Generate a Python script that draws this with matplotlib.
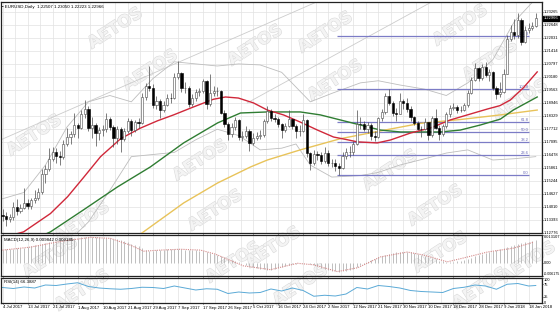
import numpy as np
import matplotlib
matplotlib.use("Agg")
import matplotlib.pyplot as plt
import matplotlib.patheffects as pe
from matplotlib.transforms import blended_transform_factory

plt.rcParams["font.family"] = ["Liberation Sans Narrow", "Liberation Sans", "DejaVu Sans"]

# daily EURUSD bars (open of each bar = previous close)
first_open = 1.1362
close = [
    1.1360, 1.1346, 1.1352, 1.1400, 1.1380, 1.1398, 1.1420, 1.1405,
    1.1432, 1.1445, 1.1470, 1.1556, 1.1580, 1.1630, 1.1660, 1.1645,
    1.1640, 1.1700, 1.1735, 1.1745, 1.1790, 1.1775, 1.1840, 1.1865,
    1.1775, 1.1790, 1.1750, 1.1765, 1.1770, 1.1820, 1.1780, 1.1730,
    1.1770, 1.1725, 1.1760, 1.1810, 1.1765, 1.1805, 1.1800, 1.1925,
    1.1975, 1.1965, 1.1885, 1.1905, 1.1860, 1.1885, 1.1920, 1.1918,
    1.2020, 1.2035, 1.1965, 1.1968, 1.1888, 1.1918, 1.1945, 1.1952,
    1.1998, 1.1892, 1.1942, 1.1950, 1.1950, 1.1848, 1.1795, 1.1748,
    1.1782, 1.1815, 1.1735, 1.1738, 1.1762, 1.1706, 1.1730, 1.1738,
    1.1742, 1.1808, 1.1856, 1.1823, 1.1820, 1.1793, 1.1764, 1.1786,
    1.1818, 1.1784, 1.1760, 1.1763, 1.1813, 1.1655, 1.1608, 1.1651,
    1.1646, 1.1619, 1.1655, 1.1608, 1.1610, 1.1596, 1.1588, 1.1644,
    1.1663, 1.1664, 1.1700, 1.1796, 1.1794, 1.1770, 1.1792, 1.1736,
    1.1735, 1.1822, 1.1851, 1.1930, 1.1895, 1.1846, 1.1844, 1.1905,
    1.1895, 1.1865, 1.1826, 1.1800, 1.1772, 1.1770, 1.1802, 1.1742,
    1.1825, 1.1777, 1.1748, 1.1783, 1.1840, 1.1873, 1.1876, 1.1861,
    1.1861, 1.1887, 1.1940, 1.2005, 1.2059, 1.2014, 1.2066, 1.2029,
    1.2040, 1.1967, 1.1937, 1.1946, 1.2034, 1.2198, 1.2230, 1.2215,
    1.2290, 1.2185, 1.2240, 1.2250, 1.2262, 1.2296]
high = [
    1.1390, 1.1375, 1.1368, 1.1425, 1.1440, 1.1415, 1.1490, 1.1438,
    1.1445, 1.1480, 1.1490, 1.1583, 1.1600, 1.1680, 1.1685, 1.1680,
    1.1665, 1.1718, 1.1775, 1.1760, 1.1845, 1.1800, 1.1860, 1.1910,
    1.1880, 1.1830, 1.1800, 1.1780, 1.1790, 1.1845, 1.1830, 1.1790,
    1.1785, 1.1780, 1.1775, 1.1825, 1.1820, 1.1815, 1.1825, 1.1940,
    1.1990, 1.2068, 1.1985, 1.1930, 1.1915, 1.1905, 1.1935, 1.1940,
    1.2035, 1.2092, 1.2040, 1.1995, 1.1975, 1.1935, 1.1960, 1.1965,
    1.2010, 1.2005, 1.2030, 1.1975, 1.1970, 1.1955, 1.1860, 1.1805,
    1.1800, 1.1830, 1.1820, 1.1760, 1.1785, 1.1770, 1.1750, 1.1755,
    1.1765, 1.1820, 1.1880, 1.1865, 1.1840, 1.1830, 1.1800, 1.1800,
    1.1860, 1.1825, 1.1795, 1.1790, 1.1840, 1.1820, 1.1660, 1.1670,
    1.1665, 1.1660, 1.1685, 1.1670, 1.1630, 1.1630, 1.1610, 1.1660,
    1.1680, 1.1690, 1.1715, 1.1860, 1.1830, 1.1810, 1.1805, 1.1800,
    1.1760, 1.1830, 1.1865, 1.1940, 1.1961, 1.1905, 1.1870, 1.1940,
    1.1915, 1.1920, 1.1880, 1.1835, 1.1810, 1.1785, 1.1825, 1.1805,
    1.1835, 1.1865, 1.1790, 1.1795, 1.1850, 1.1885, 1.1895, 1.1885,
    1.1880, 1.1895, 1.1955, 1.2020, 1.2085, 1.2065, 1.2080, 1.2089,
    1.2055, 1.2045, 1.1975, 1.1995, 1.2055, 1.2215, 1.2265, 1.2295,
    1.2323, 1.2300, 1.2260, 1.2275, 1.2280, 1.2320]
low = [
    1.1335, 1.1312, 1.1330, 1.1340, 1.1365, 1.1372, 1.1390, 1.1393,
    1.1390, 1.1420, 1.1435, 1.1465, 1.1515, 1.1570, 1.1620, 1.1612,
    1.1600, 1.1630, 1.1690, 1.1700, 1.1735, 1.1730, 1.1770, 1.1825,
    1.1760, 1.1730, 1.1690, 1.1720, 1.1740, 1.1755, 1.1765, 1.1688,
    1.1700, 1.1662, 1.1715, 1.1750, 1.1740, 1.1755, 1.1775, 1.1795,
    1.1910, 1.1950, 1.1870, 1.1865, 1.1825, 1.1850, 1.1880, 1.1895,
    1.1915, 1.2010, 1.1945, 1.1940, 1.1875, 1.1880, 1.1905, 1.1930,
    1.1940, 1.1868, 1.1880, 1.1930, 1.1930, 1.1840, 1.1780, 1.1720,
    1.1735, 1.1765, 1.1717, 1.1715, 1.1730, 1.1669, 1.1695, 1.1720,
    1.1725, 1.1735, 1.1800, 1.1810, 1.1805, 1.1780, 1.1730, 1.1755,
    1.1780, 1.1770, 1.1730, 1.1740, 1.1755, 1.1640, 1.1575, 1.1600,
    1.1625, 1.1605, 1.1610, 1.1595, 1.1590, 1.1570, 1.1554, 1.1580,
    1.1630, 1.1640, 1.1650, 1.1695, 1.1770, 1.1760, 1.1750, 1.1720,
    1.1715, 1.1730, 1.1810, 1.1840, 1.1885, 1.1835, 1.1810, 1.1840,
    1.1865, 1.1850, 1.1810, 1.1790, 1.1765, 1.1735, 1.1765, 1.1720,
    1.1735, 1.1770, 1.1718, 1.1740, 1.1775, 1.1830, 1.1860, 1.1845,
    1.1850, 1.1855, 1.1875, 1.1935, 1.2000, 1.2000, 1.2005, 1.2020,
    1.2000, 1.1955, 1.1915, 1.1925, 1.1940, 1.2030, 1.2190, 1.2200,
    1.2205, 1.2170, 1.2180, 1.2225, 1.2240, 1.2255]

# moving averages read at sample bars
ma_red_bar = [0, 5.9, 13.4, 18.2, 22.6, 27.4, 33.0, 38.5, 43.3, 47.8, 53.4, 58.9,
              62.3, 65.9, 70.1, 74.0, 78.5, 83.2, 88.0, 92.5, 95.8, 99.2, 104.7,
              108.4, 114.0, 119.6, 125.1, 129.9, 135.5, 139.0, 141.9, 145.5, 149.4]
ma_red = [1.1255, 1.1283, 1.1370, 1.1450, 1.1540, 1.1640, 1.1725, 1.1775, 1.1810,
          1.1838, 1.1876, 1.1912, 1.1923, 1.1918, 1.1895, 1.1861, 1.1838, 1.1804,
          1.1766, 1.1733, 1.1722, 1.1710, 1.1705, 1.1719, 1.1752, 1.1776, 1.1814,
          1.1838, 1.1866, 1.1882, 1.1909, 1.1966, 1.2042]
ma_green_bar = [7.8, 13.4, 22.6, 32.1, 41.3, 50.6, 60.1, 66.5, 74.0, 83.2, 88.8,
                94.4, 100.0, 105.6, 111.2, 122.3, 127.9, 133.5, 139.1, 142.7, 149.4]
ma_green = [1.1240, 1.1283, 1.1387, 1.1496, 1.1591, 1.1705, 1.1800, 1.1847, 1.1852,
            1.1852, 1.1838, 1.1814, 1.1790, 1.1766, 1.1757, 1.1757, 1.1766, 1.1790,
            1.1818, 1.1861, 1.1923]
ma_yellow_bar = [35.8, 39.4, 50.6, 60.1, 69.3, 74.0, 83.2, 94.4, 105.6, 116.8,
                 127.9, 139.1, 149.4]
ma_yellow = [1.1240, 1.1283, 1.1420, 1.1515, 1.1591, 1.1624, 1.1672, 1.1725, 1.1762,
             1.1798, 1.1816, 1.1838, 1.1861]

# bollinger bands
bb_bar = [0, 6, 12, 18, 24, 30, 36, 42, 48, 54, 60, 66, 72, 78, 82, 86, 92, 100,
          105, 111, 118, 124, 130, 137, 143, 149]
bb_upper = [1.1440, 1.1470, 1.1600, 1.1780, 1.1900, 1.1930, 1.1900, 1.2010, 1.2090,
            1.2080, 1.2070, 1.2080, 1.2075, 1.2040, 1.1970, 1.1900, 1.1940, 1.1990,
            1.2000, 1.1980, 1.1960, 1.1930, 1.1990, 1.2100, 1.2280, 1.2390]
bb_lower = [1.1220, 1.1230, 1.1210, 1.1230, 1.1330, 1.1480, 1.1640, 1.1650, 1.1660,
            1.1720, 1.1770, 1.1740, 1.1672, 1.1680, 1.1700, 1.1600, 1.1543, 1.1550,
            1.1565, 1.1600, 1.1630, 1.1657, 1.1672, 1.1624, 1.1630, 1.1640]

# trend lines (two anchor points each)
trend_a_bar = [-0.6, 89.0]
trend_a = [1.1719, 1.2383]
trend_b_bar = [68.4, 120.0]
trend_b = [1.1895, 1.2375]

# fibonacci retracement
fib_names = ["0.0", "23.6", "38.2", "50.0", "61.8", "100.0", "161.8"]
fib_price = [1.1554, 1.1650, 1.1709, 1.1757, 1.1806, 1.1961, 1.2213]
fib_from, fib_to = 93.6, 147.0

# MACD main (histogram), per bar
macd = np.array([
    62, 63, 64, 66, 68, 70, 72, 75, 78, 82, 86, 90, 94, 98, 101, 104,
    107, 110, 112, 115, 117, 119, 121, 122, 122, 121, 121, 120, 119, 118, 116, 113,
    110, 106, 101, 96, 90, 84, 79, 70, 60, 57, 58, 59, 60, 62, 63, 64,
    65, 64, 63, 62, 61, 60, 59, 57, 55, 52, 48, 43, 38, 32, 26, 20,
    14, 8, 3, -2, -8, -14, -20, -25, -28, -30, -32, -32, -30, -26, -21, -15,
    -10, -6, -3, -1, -1, -2, -5, -10, -17, -24, -30, -35, -38, -40, -41, -40,
    -37, -33, -27, -20, -12, -4, 4, 12, 20, 27, 33, 39, 44, 48, 51, 52,
    52, 51, 49, 46, 42, 38, 33, 28, 22, 16, 11, 7, 5, 4, 5, 7,
    10, 14, 19, 24, 30, 36, 42, 47, 52, 56, 60, 64, 69, 74, 79, 84,
    88, 92, 96, 100, 104, 107]) * 1e-4
sig_bar = [0, 7.8, 16.2, 24.6, 30.2, 35.8, 39.4, 44.1, 49.7, 55.3, 59.5, 67.3, 74.9,
           82.4, 86.9, 93.6, 99.2, 105.6, 113.1, 117.6, 124.3, 128.8, 135.5, 142.7, 148.3]
sig_val = [0.0060, 0.0074, 0.0101, 0.0120, 0.0115, 0.0083, 0.0055, 0.0060, 0.0064,
           0.0060, 0.0041, -0.0014, -0.0032, -0.0002, -0.0009, -0.0041, -0.0023,
           0.0028, 0.0051, 0.0037, 0.0005, 0.0023, 0.0051, 0.0069, 0.0097]

# RSI(14)
rsi_bar = [0, 3, 6, 9, 12, 15, 18, 21, 24, 27, 30, 33, 36, 39, 42, 45, 48, 51, 54,
           57, 60, 63, 66, 69, 72, 75, 78, 81, 84, 87, 90, 93, 96, 99, 102, 105,
           108, 111, 114, 117, 120, 123, 126, 129, 132, 135, 138, 141, 144, 147, 149]
rsi_val = [62, 58, 64, 60, 72, 70, 76, 81, 66, 60, 57, 55, 58, 63, 62, 58, 68, 60,
           52, 57, 55, 38, 44, 40, 42, 56, 48, 60, 50, 27, 31, 28, 36, 62, 56, 70,
           66, 60, 50, 46, 44, 42, 58, 63, 72, 68, 55, 75, 78, 68, 70]

date_labels = ["4 Jul 2017", "13 Jul 2017", "21 Jul 2017", "1 Aug 2017", "10 Aug 2017",
               "21 Aug 2017", "29 Aug 2017", "7 Sep 2017", "17 Sep 2017", "26 Sep 2017",
               "5 Oct 2017", "16 Oct 2017", "24 Oct 2017", "2 Nov 2017", "12 Nov 2017",
               "21 Nov 2017", "30 Nov 2017", "10 Dec 2017", "18 Dec 2017", "28 Dec 2017",
               "9 Jan 2018", "18 Jan 2018"]
date_bars = [0, 7, 14, 21, 28, 35, 42, 49, 56, 63, 70, 77, 84, 91, 98, 105, 112,
             119, 126, 133, 140, 147]
price_ticks = [1.23265, 1.22648, 1.22031, 1.21414, 1.20797, 1.20180, 1.19563,
               1.18946, 1.18329, 1.17712, 1.17095, 1.16478, 1.15861, 1.15244,
               1.14627, 1.14010, 1.13393, 1.12776]
last_price = 1.22966

# watermark spots, in pixels
wm_px = [(115, 28), (150, 70), (34, 135), (82, 222), (200, 160), (215, 210),
         (255, 45), (325, 32), (335, 80), (390, 170), (435, 205), (460, 25),
         (490, 60), (520, 100), (50, 257), (82, 290), (233, 262), (273, 247),
         (300, 285), (440, 252), (480, 288), (528, 262)]

W, H = 560, 314
fs = 2.9
fig = plt.figure(figsize=(W / 100, H / 100), dpi=100)
fig.patch.set_facecolor("white")

def px_axes(top, bottom):
    return fig.add_axes([0.5 / W, 1 - bottom / H, 541 / W, (bottom - top) / H])

ax = px_axes(2, 233)
ax_m = px_axes(235, 276)
ax_r = px_axes(278, 303)

idx = np.arange(len(close))
c = np.array(close)
o = np.concatenate([[first_open], c[:-1]])
h = np.array(high)
l = np.array(low)
xlim = (-0.56, 150.6)
grid_c = "#e2e2e2"

for a in (ax, ax_m, ax_r):
    a.set_facecolor("none")
    a.set_xlim(*xlim)
    a.set_xticks(date_bars)
    a.set_xticks([b + 3.5 for b in date_bars], minor=True)
    a.grid(True, which="both", axis="x", color=grid_c, lw=0.5)
    a.yaxis.tick_right()
    a.tick_params(axis="both", which="both", labelsize=fs, length=1.0, width=0.5,
                  pad=0.8, colors="black")
    a.tick_params(axis="x", which="minor", length=0)
    for s in a.spines.values():
        s.set_linewidth(0.9)
        s.set_color("#222222")

# main price panel
ax.set_ylim(1.12779, 1.23737)
ax.set_yticks(price_ticks)
ax.set_yticklabels(["%.5f" % v for v in price_ticks])
ax.grid(True, axis="y", color=grid_c, lw=0.5)
ax.tick_params(axis="x", labelbottom=False)

ax.plot(trend_a_bar, trend_a, color="#cccccc", lw=0.6)
ax.plot(trend_b_bar, trend_b, color="#cccccc", lw=0.6)
ax.plot(bb_bar, bb_upper, color="#bdbdbd", lw=0.6)
ax.plot(bb_bar, bb_lower, color="#bdbdbd", lw=0.6)

ax.hlines(fib_price, fib_from, fib_to, color="#7c7cc6", lw=0.9, zorder=2)
for name, p in zip(fib_names, fib_price):
    ax.text(fib_to, p, name, fontsize=3.0, color="#6a6ab8", ha="right", va="bottom")

ax.plot(ma_yellow_bar, ma_yellow, color="#e8c35a", lw=1.0, zorder=3)
ax.plot(ma_green_bar, ma_green, color="#2f7d32", lw=1.0, zorder=3)
ax.plot(ma_red_bar, ma_red, color="#d0283a", lw=1.0, zorder=3)

up = c >= o
ax.vlines(idx, l, h, color="#4a4a4a", lw=0.5, zorder=4)
ax.bar(idx[up], (c - o)[up], bottom=o[up], width=0.62, color="white",
       edgecolor="#4a4a4a", lw=0.4, zorder=5)
ax.bar(idx[~up], (o - c)[~up], bottom=c[~up], width=0.62, color="black",
       edgecolor="black", lw=0.4, zorder=5)

tr = blended_transform_factory(ax.transAxes, ax.transData)
ax.text(1.004, last_price, "%.5f" % last_price, transform=tr, fontsize=fs,
        color="white", va="center", ha="left",
        bbox=dict(boxstyle="square,pad=0.12", fc="black", ec="black"), zorder=6)

# MACD panel
ax_m.set_ylim(-0.006175, 0.013107)
ax_m.set_yticks([0.013107, 0.0, -0.006175])
ax_m.set_yticklabels(["0.013107", "0.00", "-0.006175"])
mlabels = ax_m.get_yticklabels()
mlabels[0].set_va("top")
mlabels[2].set_va("bottom")
mlabels[2].set_fontsize(2.6)
ax_m.tick_params(axis="x", labelbottom=False)
ax_m.vlines(idx, 0, macd, color="#b4b4b4", lw=0.6)
ax_m.plot(sig_bar, sig_val, color="#d58a8a", lw=0.8, ls=(0, (1, 1)))
ax_m.text(0.006, 0.93, "MACD(12,26,9) 0.009842 0.009185", transform=ax_m.transAxes,
          fontsize=3.2, va="top", ha="left")

# RSI panel
ax_r.set_ylim(0, 100)
ax_r.set_yticks([100, 75, 25, 0])
ax_r.set_yticklabels(["100", "75", "25", "0"])
rlabels = ax_r.get_yticklabels()
rlabels[0].set_va("top")
ax_r.plot(rsi_bar, rsi_val, color="#5aa9d6", lw=0.7)
ax_r.text(0.006, 0.9, "RSI(14) 66.3887", transform=ax_r.transAxes,
          fontsize=3.2, va="top", ha="left")
ax_r.set_xticklabels(date_labels, fontsize=3.1, ha="left")

fig.text(2 / W, 1 - 7 / H, "\u25aa EURUSD,Daily  1.22507 1.23050 1.22223 1.22966",
         fontsize=3.2, va="center", ha="left")

for (x, y) in wm_px:
    fig.text(x / W, 1 - y / H, "AETOS", fontsize=12, fontweight="bold",
             family="DejaVu Sans", color="#f4f4f4", rotation=33, ha="center",
             va="center", zorder=-1,
             path_effects=[pe.withStroke(linewidth=0.8, foreground="#dadada")])

fig.savefig("out.png", dpi=100)
